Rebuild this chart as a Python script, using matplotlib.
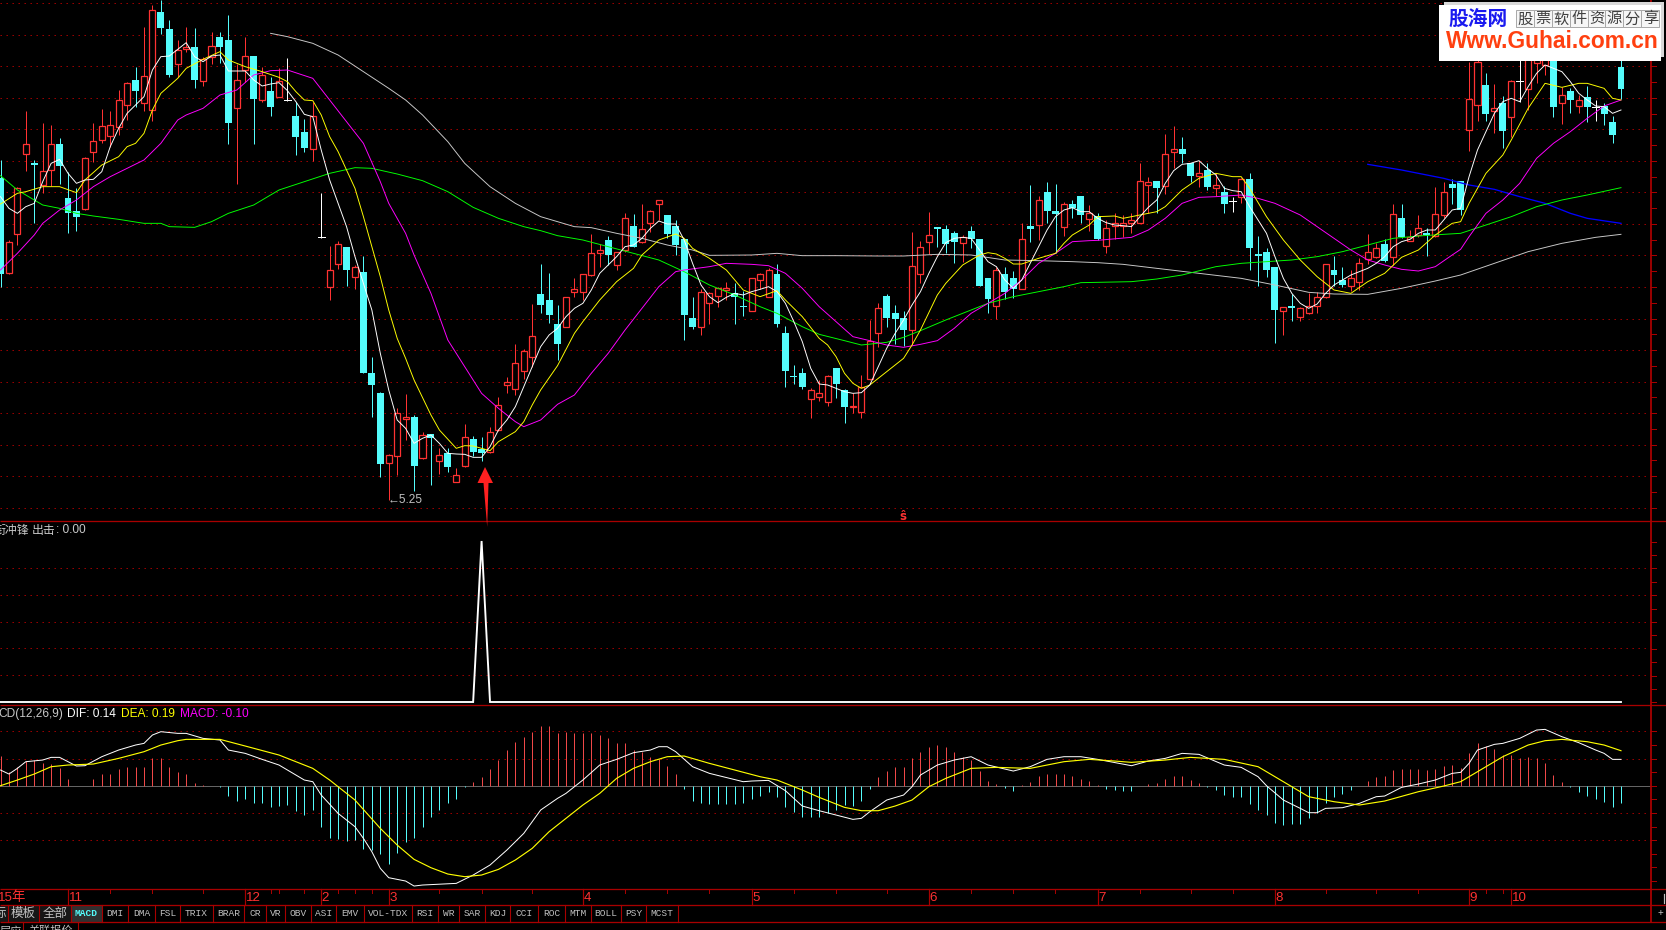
import numpy as np
import matplotlib
matplotlib.use("Agg")
import matplotlib.pyplot as plt
from matplotlib.patches import Rectangle, Polygon

plt.rcParams['font.family'] = ['Liberation Sans', 'Noto Sans CJK SC', 'DejaVu Sans']

# ---------- candles, prices in units of 1/300 ----------
kinds = ("crrrcrrccc" "rrrrrrcrrc" "crrcrrccrr" "crcrwccrwr" "rcrcccrrrc" "rcrcrrccrr"
         "rrrrcccrrr" "rrcrrcrrrc" "cccrrrrccr" "rrccccrrrc" "crrrrcccrr" "rcccrcccrc"
         "crcrccrccr" "crrrrrrcrr" "ccrcrcwrcc" "ccrcrrrrcc" "rrrrcrcrrc" "rrccrrcrcr"
         "wrrrcrcrcw" "ccc")
highs = [2595,2355,2515,2742,2595,2705,2699,2660,2560,2510,
         2605,2705,2747,2742,2805,2828,2873,2993,3060,3075,
         3015,2955,2993,2990,2903,2978,2980,3030,2882,2963,
         2907,2875,2845,2870,2901,2770,2717,2770,2497,2337,
         2352,2333,2280,2307,2003,1900,1713,1850,1893,1830,
         1780,1773,1730,1730,1670,1802,1767,1763,1793,1883,
         1943,2042,2027,2163,2283,2257,2160,2185,2242,2253,
         2372,2343,2367,2320,2437,2433,2463,2445,2475,2430,
         2415,2357,2185,2207,2200,2215,2230,2225,2203,2240,
         2255,2270,2283,2097,1980,1972,1910,1935,1950,1970,
         1907,1895,1950,2115,2165,2193,2160,2142,2378,2352,
         2438,2395,2400,2383,2371,2397,2357,2242,2275,2275,
         2263,2405,2520,2487,2528,2523,2470,2475,2487,2460,
         2435,2415,2435,2430,2435,2585,2545,2532,2673,2697,
         2663,2587,2593,2587,2555,2518,2485,2540,2555,2367,
         2330,2275,2155,2193,2155,2195,2200,2282,2307,2275,
         2265,2300,2373,2345,2357,2463,2463,2385,2430,2390,
         2515,2528,2538,2532,2890,2925,2855,2823,2787,2835,
         2935,2975,2975,2945,2945,2815,2810,2790,2817,2775,
         2765,2727,2915]
body_tops = [2540,2348,2510,2642,2585,2561,2642,2642,2480,2441,
             2602,2653,2698,2701,2774,2825,2834,2848,3046,3038,
             2988,2924,2933,2933,2898,2938,2963,2954,2834,2908,
             2906,2849,2801,2831,2775,2726,2679,2726,2363,2264,
             2342,2333,2273,2259,1955,1895,1709,1837,1823,1823,
             1771,1772,1709,1716,1649,1765,1757,1729,1780,1861,
             1930,1985,2021,2068,2192,2175,2103,2183,2207,2252,
             2315,2324,2355,2318,2420,2397,2387,2441,2474,2429,
             2397,2357,2120,2198,2197,2210,2210,2197,2155,2240,
             2252,2265,2253,2076,1947,1955,1904,1895,1946,1970,
             1905,1857,1913,2053,2150,2187,2135,2120,2276,2333,
             2371,2392,2387,2375,2364,2382,2357,2240,2264,2252,
             2240,2357,2397,2474,2498,2441,2462,2463,2487,2437,
             2428,2390,2405,2405,2415,2531,2528,2531,2612,2627,
             2628,2585,2555,2564,2519,2499,2471,2537,2537,2310,
             2319,2273,2153,2154,2150,2158,2183,2282,2265,2234,
             2240,2285,2318,2330,2343,2432,2420,2365,2390,2376,
             2432,2498,2523,2531,2777,2888,2820,2750,2766,2831,
             2831,2935,2945,2925,2915,2791,2802,2774,2783,2754,
             2758,2708,2874]
body_bottoms = [2253,2257,2372,2612,2581,2520,2564,2578,2435,2425,
                2447,2618,2654,2668,2693,2759,2803,2765,2744,2992,
                2850,2882,2929,2836,2831,2903,2934,2705,2750,2865,
                2779,2776,2755,2785,2775,2665,2632,2627,2363,2215,
                2282,2266,2243,1957,1921,1684,1685,1706,1819,1678,
                1700,1760,1691,1675,1630,1676,1720,1717,1719,1785,
                1919,1907,1962,2003,2160,2131,2043,2093,2199,2198,
                2249,2315,2310,2281,2325,2335,2348,2407,2464,2373,
                2340,2131,2095,2095,2167,2186,2206,2185,2153,2143,
                2234,2185,2103,1963,1943,1914,1879,1885,1870,1923,
                1855,1853,1838,1937,2075,2121,2119,2086,2084,2252,
                2348,2389,2344,2350,2347,2359,2217,2178,2158,2200,
                2209,2209,2389,2399,2443,2433,2395,2450,2430,2419,
                2358,2338,2398,2398,2407,2407,2519,2511,2518,2618,
                2614,2547,2546,2514,2512,2463,2471,2485,2332,2308,
                2265,2145,2143,2152,2125,2135,2157,2185,2251,2220,
                2218,2230,2299,2305,2292,2305,2363,2353,2370,2370,
                2367,2430,2512,2445,2684,2759,2733,2741,2682,2725,
                2831,2807,2885,2880,2755,2765,2775,2758,2755,2754,
                2733,2670,2809]
lows = [2213,2253,2340,2563,2407,2497,2517,2523,2377,2383,
        2445,2589,2645,2635,2670,2715,2753,2743,2713,2973,
        2845,2845,2920,2812,2817,2883,2885,2643,2522,2830,
        2643,2770,2727,2783,2773,2610,2620,2593,2362,2175,
        2267,2217,2207,1957,1825,1643,1575,1650,1755,1603,
        1698,1621,1653,1660,1628,1675,1707,1693,1717,1783,
        1897,1890,1938,1975,2137,2105,1995,2093,2185,2175,
        2247,2275,2280,2265,2320,2333,2347,2380,2415,2360,
        2310,2055,2088,2070,2103,2155,2175,2103,2127,2143,
        2207,2183,2093,1915,1923,1909,1822,1872,1857,1882,
        1807,1837,1822,1935,2033,2095,2043,2037,2040,2225,
        2313,2333,2317,2287,2290,2330,2217,2137,2119,2178,
        2180,2209,2350,2355,2405,2315,2367,2420,2405,2383,
        2355,2315,2357,2363,2377,2405,2437,2435,2492,2572,
        2585,2528,2513,2505,2487,2435,2440,2465,2265,2217,
        2245,2047,2070,2113,2113,2133,2137,2182,2217,2215,
        2203,2205,2283,2300,2290,2280,2360,2351,2365,2307,
        2363,2420,2463,2430,2623,2713,2713,2675,2632,2665,
        2770,2745,2825,2850,2723,2703,2735,2735,2710,2713,
        2700,2647,2777]

# ---------- moving averages (same units), sampled at candle numbers ----------
ma5 = [2485,2450,2435,2455,2465,2530,2585,2597,2555,2525,2535,2537,2560,2635,2690,2735,2760,2785,2865,2905,
       2907,2927,2947,2905,2890,2907,2910,2862,2862,2862,2835,2817,2823,2827,2803,2770,2732,2725,2625,2535,
       2465,2395,2305,2225,2145,2015,1905,1815,1790,1745,1760,1770,1745,1715,1713,1712,1703,1703,1735,1785,
       1815,1855,1915,1975,2035,2070,2090,
       2125,2150,2165,2205,2255,2280,2305,2335,2340,2360,2390,2412,2403,2403,2355,2285,2220,2185,2167,2183,
       2195,2190,2200,2207,2215,2200,2165,2110,2050,1970,1923,1920,1910,1900,1895,1897,1920,1975,2030,2075,
       2115,2160,2200,2255,2305,2347,2360,2363,2360,2325,2290,2275,2235,2210,2235,2285,2335,2385,2425,2445,
       2452,2440,2440,2420,
       2407,2400,2398,2395,2425,2453,2475,2525,2563,2582,2585,2593,2570,2550,2510,2503,2500,2455,2415,2375,
       2305,2240,2195,2165,2150,2163,2195,2220,2235,2250,2260,2270,2285,2305,2335,2350,2357,2375,2385,2385,
       2415,2445,2450,2545,2625,2680,2735,2770,2780,2770,2815,2855,2880,2870,2860,2830,2795,2775,2757,2755,
       2735,2745]

ma10_idx = [0,2,3,5,7,9,10,12,14,15,16,17,18,19,21,22,24,26,27,29,31,33,34,35,36,37,38,39,40,42,43,44,45,46,47,48,49,
            51,52,54,55,56,58,59,61,62,63,64,66,68,69,71,73,75,76,78,80,81,82,84,86,87,88,90,92,93,95,97,98,99,100,
            101,102,103,105,107,108,109,111,112,114,116,117,118,119,120,121,123,125,126,127,129,130,132,133,135,137,
            138,140,142,144,146,147,148,150,152,154,156,158,160,162,164,166,168,170,172,173,174,176,178,179,181,183,
            185,187,188,190,191,192]
ma10 = [2463,2495,2500,2515,2515,2497,2535,2580,2605,2635,2645,2675,2745,2795,2840,2870,2897,2920,2895,2875,2860,2843,
        2830,2800,2775,2773,2730,2665,2620,2510,2425,2335,2245,2145,2060,2000,1935,1830,1785,1730,1738,1737,1723,1750,
        1780,1810,1860,1905,1978,2075,2110,2175,2230,2270,2310,2355,2373,2360,2330,2300,2265,2235,2205,2185,2203,2175,
        2125,2060,2040,2005,1955,1925,1910,1920,1960,2000,2040,2085,2190,2225,2280,2310,2317,2313,2300,2283,2283,2300,
        2315,2345,2370,2400,2425,2427,2420,2430,2440,2455,2505,2540,2555,2545,2545,2510,2425,2355,2295,2245,2205,2195,
        2230,2255,2303,2325,2370,2405,2410,2465,2555,2610,2655,2750,2825,2813,2825,2825,2810,2780,2775]

ma20_idx = [0,2,4,5,7,9,11,13,15,17,19,21,22,24,26,28,30,32,34,37,39,41,43,45,46,48,49,51,53,55,57,59,61,62,64,66,68,70,
            72,74,76,78,80,81,84,86,89,91,93,95,97,99,101,103,105,107,109,111,113,115,117,119,121,123,125,127,129,130,
            134,136,138,140,142,144,147,149,151,154,156,158,160,162,164,166,168,170,172,173,174,176,178,180,182,184,186,
            188,190,192]
ma20 = [2265,2315,2370,2405,2445,2475,2515,2545,2570,2595,2645,2715,2730,2750,2790,2805,2850,2863,2865,2840,2775,2710,
        2645,2530,2465,2375,2310,2195,2055,1975,1895,1850,1810,1795,1815,1862,1890,1955,2015,2085,2150,2215,2260,2265,
        2275,2285,2282,2278,2255,2210,2155,2110,2065,2053,2040,2033,2042,2053,2090,2135,2165,2195,2235,2285,2315,2350,
        2353,2354,2363,2385,2420,2465,2483,2485,2490,2480,2465,2430,2395,2360,2325,2295,2280,2267,2262,2275,2310,2327,
        2365,2435,2475,2525,2600,2645,2680,2720,2757,2775]

ma60_idx = [0,2,4,5,7,9,11,14,17,19,20,23,25,27,30,33,36,39,42,44,47,50,53,56,59,62,64,66,69,72,75,78,81,84,87,90,92,95,
            97,100,102,105,107,109,112,114,117,120,123,126,128,130,134,137,140,144,147,150,153,156,159,162,165,168,171,
            173,176,179,182,185,188,192]
ma60 = [2548,2505,2475,2460,2450,2435,2427,2417,2405,2405,2395,2393,2410,2435,2460,2505,2530,2555,2572,2570,2553,2533,
        2500,2453,2420,2395,2383,2368,2355,2335,2315,2295,2260,2220,2190,2155,2135,2095,2072,2053,2040,2048,2063,2083,
        2115,2135,2165,2185,2200,2215,2227,2228,2230,2238,2250,2275,2285,2290,2295,2305,2320,2340,2360,2367,2372,2375,
        2400,2425,2455,2475,2490,2512]

ma120_idx = [32,34,37,40,43,46,48,50,53,55,58,61,64,66,68,70,73,76,79,82,84,89,92,95,99,104,107,111,115,119,123,127,130,
             133,137,142,147,151,155,158,162,166,170,173,177,181,185,189,192]
ma120 = [2975,2965,2945,2910,2860,2810,2775,2730,2650,2585,2515,2465,2425,2410,2395,2392,2375,2360,2340,2325,2309,2310,
         2315,2308,2308,2307,2307,2312,2310,2295,2293,2290,2287,2282,2270,2255,2240,2220,2198,2193,2192,2210,2232,2250,
         2285,2320,2345,2363,2372]

trend_idx = [162,166,171,174,177,180,183,186,188,192]
trend = [2582,2565,2540,2520,2507,2485,2465,2435,2420,2405]

# ---------- signal panel ----------
signal = [0] * 193
signal[57] = 100

# ---------- MACD panel, in units of 1/558 ----------
macd_hist = [89,42,57,75,77,67,65,52,20,0,0,20,35,35,49,56,56,56,82,82,
             56,42,35,7,2,0,-3,-31,-45,-40,-53,-51,-63,-60,-58,-76,-88,-73,-124,-158,
             -160,-165,-163,-190,-193,-205,-235,-201,-168,-158,-123,-95,-73,-53,-40,-5,11,25,50,77,
             107,131,147,162,179,179,159,161,159,159,159,152,142,127,127,107,102,87,79,59,
             35,-10,-46,-53,-55,-55,-55,-55,-53,-41,-31,-20,-35,-65,-78,-95,-95,-93,-83,-72,
             -58,-61,-46,-10,25,44,56,57,82,102,117,122,117,102,87,77,44,14,4,-6,
             -16,2,12,29,35,35,35,29,20,14,2,-10,-13,-15,-16,0,4,9,20,29,
             29,17,7,-3,-13,-28,-33,-33,-56,-73,-88,-113,-118,-116,-116,-98,-81,-51,-33,-26,
             -13,0,14,25,29,47,49,49,50,47,49,60,62,52,97,127,119,109,92,92,
             82,87,82,67,32,10,-3,-18,-31,-40,-48,-63,-51]
dif_idx = [0,1,2,3,5,6,7,9,10,12,14,16,17,18,19,21,22,24,26,27,29,31,33,35,36,37,38,40,42,43,44,45,46,48,49,50,54,56,58,
           60,62,64,66,67,69,71,73,75,77,78,79,80,82,84,88,89,91,93,95,97,99,101,102,103,105,107,108,109,111,113,115,117,
           120,122,124,126,128,130,134,136,138,140,142,145,147,149,150,152,154,155,156,157,159,161,163,164,166,168,170,
           172,173,174,175,177,178,180,182,183,185,187,189,190,191,192]
dif = [47,35,52,72,77,85,85,59,60,87,107,122,127,152,162,157,157,142,137,107,97,79,62,32,17,12,-28,-83,-123,-158,-198,
       -248,-276,-286,-301,-298,-293,-268,-238,-193,-143,-73,-38,-23,17,62,79,99,107,117,117,102,57,37,12,14,16,-15,-61,
       -75,-88,-101,-98,-78,-43,-28,-3,32,62,77,87,62,44,57,79,87,87,79,60,74,82,97,94,62,55,27,0,-43,-68,-81,-81,-68,
       -66,-53,-33,-31,-5,5,17,37,40,67,107,124,127,142,167,169,147,129,107,97,79,79]
dea_idx = [0,2,4,6,8,11,14,17,19,21,22,26,29,33,37,39,42,45,47,49,51,53,55,57,59,61,63,65,67,69,71,73,75,77,79,81,84,87,
           90,92,95,97,99,100,102,104,106,108,110,112,115,118,122,126,129,132,134,138,141,145,149,152,155,158,161,164,168,
           171,173,175,178,181,183,185,188,190,192]
dea = [0,17,35,57,62,65,82,102,122,135,139,139,119,92,52,17,-43,-128,-178,-221,-246,-265,-273,-268,-251,-223,-188,-138,
       -98,-58,-23,22,52,72,87,89,67,47,27,17,-13,-35,-55,-65,-75,-75,-61,-43,-3,22,52,55,52,72,79,74,70,77,85,79,57,12,
       -33,-48,-58,-46,-18,-1,12,42,87,122,135,139,132,122,105]

# ---------- axis and toolbar labels ----------
month_labels = ['15年', '11', '12', '2', '3', '4', '5', '6', '7', '8', '9', '10']
month_idx = [0, 8, 29, 38, 46, 69, 89, 110, 130, 151, 174, 179]
minor_idx = [13,18,24,32,33,36,40,42,44,52,57,63,74,79,84,94,99,105,115,120,125,135,141,146,157,163,168,176,178]
tab_labels = ['标','模板','全部','MACD','DMI','DMA','FSL','TRIX','BRAR','CR','VR','OBV','ASI','EMV','VOL-TDX',
              'RSI','WR','SAR','KDJ','CCI','ROC','MTM','BOLL','PSY','MCST']
tab_edges = [-8,8,39,71,102,128,155,180,213,244,266,285,311,336,364,412,438,459,485,510,538,565,591,621,646,678]

# ---------- layout and style ----------
W, H = 1666, 930
PX = 0.72
STEP, X0 = 8.44, 0.5
CYAN, RED = '#54FCFC', '#FF3232'
FRAME = '#A80000'
GRID = '#A80000'
DOT = (0, (1.4, 4.6))
RIGHT = 1651

fig = plt.figure(figsize=(W / 100, H / 100), dpi=100, facecolor='black')

def pane(top, bottom):
    ax = fig.add_axes([0, 1 - bottom / H, 1, (bottom - top) / H])
    ax.set_xlim((0 - X0) / STEP, (W - X0) / STEP)
    ax.set_facecolor('black')
    ax.axis('off')
    return ax

def hgrid(ax, levels):
    for lv in levels:
        ax.plot([(0 - X0) / STEP, (RIGHT - X0) / STEP], [lv, lv], color=GRID, lw=PX, ls=DOT, zorder=1)

# main price pane
ax = pane(0, 521.3)
ax.set_ylim(10.25 - 5.213, 10.25)
hgrid(ax, 5.173 + 0.31525 * np.arange(17))
idx = np.arange(len(kinds))
hi, lo = np.array(highs) / 300, np.array(lows) / 300
top, bot = np.array(body_tops) / 300, np.array(body_bottoms) / 300
palette = {'r': RED, 'c': CYAN, 'w': 'white'}
for i, k in enumerate(kinds):
    col = palette[k]
    ax.plot([i, i], [lo[i], hi[i]], color=col, lw=PX, zorder=2, solid_capstyle='butt')
    h = top[i] - bot[i]
    if k == 'r':
        ax.add_patch(Rectangle((i - 0.36, bot[i]), 0.72, h, facecolor='black', edgecolor=col,
                               lw=1.25 * PX, snap=True, zorder=3))
    elif k == 'w':
        ax.plot([i - 0.41, i + 0.41], [top[i], top[i]], color=col, lw=PX, zorder=3)
    else:
        ax.add_patch(Rectangle((i - 0.41, bot[i]), 0.82, max(h, 0.012), facecolor=col, edgecolor='none',
                               snap=True, zorder=3))
line_lw = 0.95 * PX
ax.plot(ma120_idx, np.array(ma120) / 300, color='#C8C8C8', lw=line_lw, zorder=4)
ax.plot(trend_idx, np.array(trend) / 300, color='#0000FF', lw=1.3 * PX, zorder=4)
ax.plot(ma60_idx, np.array(ma60) / 300, color='#00FF00', lw=line_lw, zorder=4)
ax.plot(ma20_idx, np.array(ma20) / 300, color='#FF00FF', lw=line_lw, zorder=4)
ax.plot(ma10_idx, np.array(ma10) / 300, color='#FFFF00', lw=line_lw, zorder=5)
ax.plot(idx, np.array(ma5) / 300, color='white', lw=line_lw, zorder=6)

# signal pane
ax2 = pane(521.3, 705.3)
ax2.set_ylim((702 - 705.3) / 1.61, (702 - 521.3) / 1.61)
hgrid(ax2, [100 / 6 * k for k in range(1, 6)])
ax2.plot(idx, signal, color='white', lw=1.9 * PX, zorder=4, solid_joinstyle='miter')

# MACD pane
ax3 = pane(705.3, 889)
ax3.set_ylim((785.7 - 889) / 186, (785.7 - 705.3) / 186)
hgrid(ax3, [-0.292, -0.146, 0.146, 0.292])
ax3.plot([(0 - X0) / STEP, (RIGHT - X0) / STEP], [0, 0], color='#C8C8C8', lw=PX, ls=(0, (1, 1)), zorder=2)
hv = np.array(macd_hist) / 558
for i, v in enumerate(hv):
    if v != 0:
        ax3.plot([i, i], [0, v], color='#F04848' if v > 0 else CYAN, lw=PX, zorder=3, solid_capstyle='butt')
ax3.plot(dif_idx, np.array(dif) / 558, color='white', lw=PX, zorder=5)
ax3.plot(dea_idx, np.array(dea) / 558, color='#FFFF00', lw=1.15 * PX, zorder=6)

# overlay in picture pixels: frame, labels, toolbar, arrow, logo
ov = fig.add_axes([0, 0, 1, 1], zorder=20)
ov.set_xlim(0, W)
ov.set_ylim(H, 0)
ov.axis('off')
ov.patch.set_alpha(0)

for y in (521.3, 705.3, 889, 905.3, 922):
    ov.plot([0, W], [y, y], color=FRAME, lw=1.3 * PX, solid_capstyle='butt')
ov.plot([RIGHT, RIGHT], [0, 922], color=FRAME, lw=1.8 * PX, solid_capstyle='butt')
for y in np.arange(3.3, 521, 31.525 / 2):
    ov.plot([RIGHT, RIGHT + 5], [y, y], color=FRAME, lw=PX)
for y in np.concatenate([np.arange(541.6, 705, 13.4), np.arange(731.3, 889, 13.6)]):
    ov.plot([RIGHT, RIGHT + 5], [y, y], color=FRAME, lw=PX)

# month labels and ticks
for lab, i in zip(month_labels, month_idx):
    x = X0 + STEP * i
    if lab != '15年':
        ov.plot([x, x], [889, 905.3], color=FRAME, lw=1.2 * PX)
        ov.text(x + 0.5, 897.5, lab, color=RED, fontsize=9.6, va='center', ha='left')
    else:
        ov.text(-2, 897.5, lab, color=RED, fontsize=9.6, va='center', ha='left')
for i in minor_idx:
    x = X0 + STEP * i
    ov.plot([x, x], [889, 892.5], color=FRAME, lw=PX)

# toolbar
for a, b, lab in zip(tab_edges[:-1], tab_edges[1:], tab_labels):
    active = lab == 'MACD'
    cjk = lab in ('标', '模板', '全部')
    if active or cjk:
        ov.add_patch(Rectangle((a, 906), b - a, 15.5, facecolor='#303030' if active else '#161616', edgecolor='none'))
    ov.plot([b, b], [905.3, 922], color=FRAME, lw=1.1 * PX)
    ov.text((a + b) / 2, 913.7, lab, ha='center', va='center',
            color=CYAN if active else '#C0C0C0',
            fontsize=9 if cjk else 6.8,
            family=['Noto Sans CJK SC'] if cjk else ['Liberation Mono'],
            fontweight='bold' if active else 'normal')
ov.text(1660, 913, '+', color='#C0C0C0', fontsize=7, ha='center', va='center')
ov.plot([1664, 1664], [894, 903], color='#C0C0C0', lw=1.2 * PX)
ov.plot([23, 23], [922, 930], color=FRAME, lw=1.1 * PX)
ov.plot([78, 78], [922, 930], color=FRAME, lw=1.1 * PX)
ov.text(11, 931, '层应', color='#C0C0C0', fontsize=8, ha='center', va='center', family=['Noto Sans CJK SC'])
ov.text(51, 931, '关联报价', color='#C0C0C0', fontsize=8, ha='center', va='center', family=['Noto Sans CJK SC'])

# pane titles
ov.text(-6, 530, '衔冲锋', color='#C8C8C8', fontsize=8.6, va='center', family=['Noto Sans CJK SC'])
ov.text(32, 530, '出击', color='#C8C8C8', fontsize=8.6, va='center', family=['Noto Sans CJK SC'])
ov.text(56, 530, ': 0.00', color='#C8C8C8', fontsize=8.6, va='center')
ov.text(-2, 713.5, 'CD(12,26,9)', color='#C8C8C8', fontsize=8.6, va='center')
ov.text(67, 713.5, 'DIF: 0.14', color='white', fontsize=8.6, va='center')
ov.text(121, 713.5, 'DEA: 0.19', color='#FFFF00', fontsize=8.6, va='center')
ov.text(180, 713.5, 'MACD: -0.10', color='#FF00FF', fontsize=8.6, va='center')

# price marks
ov.text(388, 500, '←5.25', color='#C0C0C0', fontsize=8.6, va='center', ha='left')
ov.text(175, 2, '9.18', color='#C0C0C0', fontsize=8.6, va='bottom', ha='left')
ov.text(903, 516, 'ŝ', color=RED, fontsize=8.5, va='center', ha='center', fontweight='bold',
        family=['DejaVu Sans'])

# signal arrow
ov.add_patch(Polygon([(485, 467), (493, 483), (488.5, 483), (487.2, 527), (483.5, 483), (477.5, 483)],
                     closed=True, facecolor='#FF2020', edgecolor='none', zorder=10))

# logo
ov.add_patch(Rectangle((1444, 2), 220, 55, facecolor='#D8D8D8', edgecolor='none', zorder=10))
ov.add_patch(Rectangle((1439, 5), 222, 56, facecolor='white', edgecolor='none', zorder=11))
ov.text(1448.5, 19, '股海网', color='#1A1AF0', fontsize=14.2, fontweight='bold', va='center', ha='left',
        family=['Noto Sans CJK SC'], zorder=12)
for k, ch in enumerate('股票软件资源分享'):
    cx = 1516 + 17.9 * k
    ov.add_patch(Rectangle((cx, 10.5), 17.9, 17, facecolor='#F6F6F6', edgecolor='#A8A8A8', lw=0.7, zorder=12))
    ov.text(cx + 9, 19, ch, color='#404040', fontsize=11, va='center', ha='center',
            family=['Noto Sans CJK SC'], zorder=13)
ov.text(1446, 42, 'Www.Guhai.com.cn', color='#FF4010', fontsize=16.4, fontweight='bold', va='center', ha='left',
        family=['Liberation Sans'], zorder=12)

fig.savefig('out.png', dpi=100, facecolor='black')
